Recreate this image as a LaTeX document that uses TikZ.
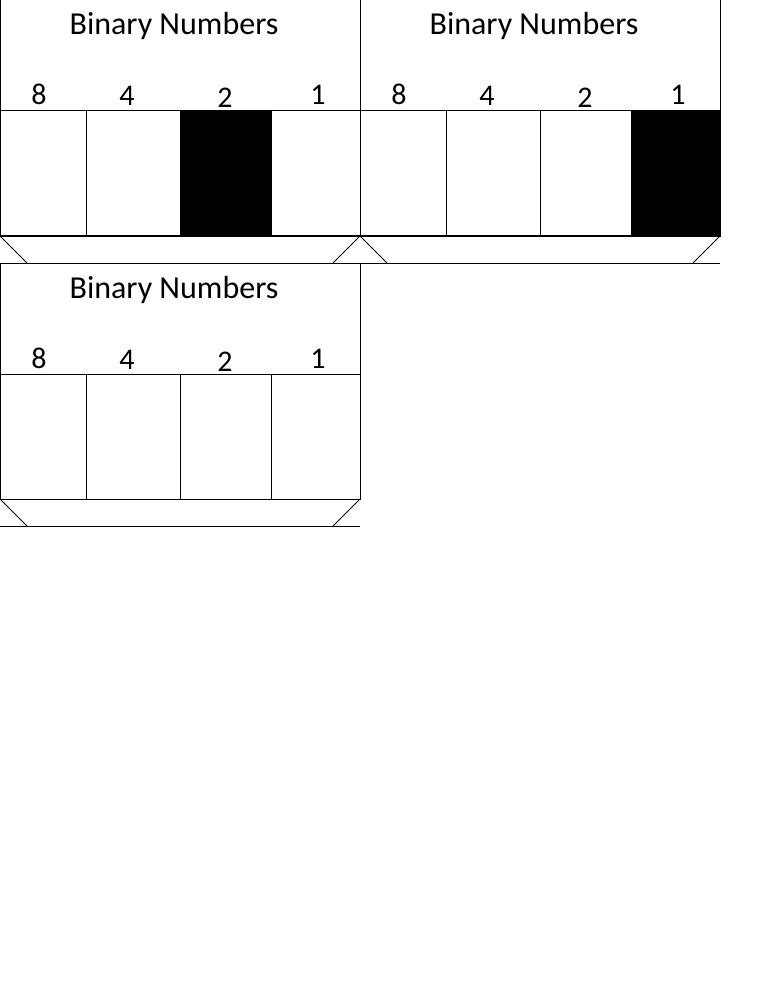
\documentclass[tikz,border=0pt]{standalone}
\usepackage{fontspec}
\setmainfont{Carlito}
\begin{document}
\begin{tikzpicture}[x=1pt,y=-1pt,line width=1pt,
  ttl/.style={anchor=base,inner sep=0pt,font=\fontsize{32}{36}\selectfont},
  dig/.style={anchor=base,inner sep=0pt,font=\fontsize{30}{34}\selectfont},
  edge/.style={draw=black,line width=1pt}]
\useasboundingbox (0,0) rectangle (768,1008);
\foreach \p/\dx/\dy/\blk in {1/0/0/2, 2/360/0/3, 3/0/263/-1}{
  \begin{scope}[shift={(\dx,\dy)}]
    \ifnum\blk=2 \fill[black] (180,111) rectangle (271,236); \fi
    \ifnum\blk=3 \fill[black] (271,111) rectangle (360,236); \fi
    \coordinate (tl\p) at (0,0);
    \coordinate (tr\p) at (360,0);
    \coordinate (ml\p) at (0,111);
    \coordinate (mr\p) at (360,111);
    \coordinate (bl\p) at (0,236);
    \coordinate (br\p) at (360,236);
    \coordinate (fl\p) at (0,263);
    \coordinate (fr\p) at (360,263);
    \coordinate (sl\p) at (27,263);
    \coordinate (sr\p) at (333,263);
    \draw[edge] (bl\p) -- (tl\p) -- (tr\p) -- (br\p) -- cycle;
    \draw[edge] (ml\p) -- (mr\p);
    \foreach \x in {86,180,271}{
      \draw[edge] (\x,111) -- (\x,236);
    }
    \draw[edge] (bl\p) -- (sl\p);
    \draw[edge] (br\p) -- (sr\p);
    \draw[edge] (fl\p) -- (fr\p);
    \node[ttl] (title\p) at (174,35) {Binary Numbers};
    \node[dig] (d8\p) at (39,105) {8};
    \node[dig] (d4\p) at (127,106) {4};
    \node[dig] (d2\p) at (225,108) {2};
    \node[dig] (d1\p) at (318,105) {1};
  \end{scope}
}
\end{tikzpicture}
\end{document}
